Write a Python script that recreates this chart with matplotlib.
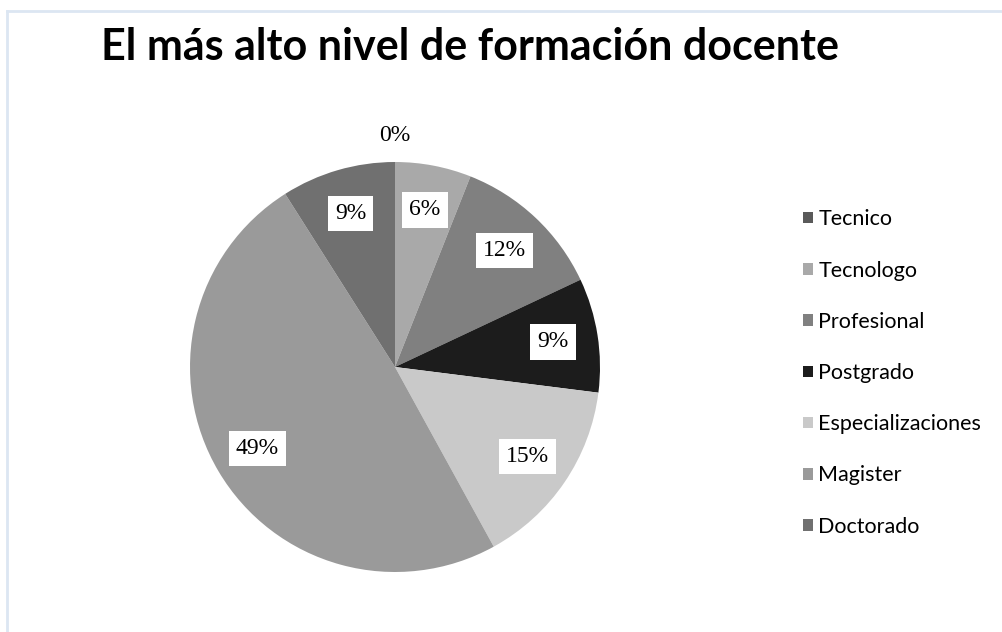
import matplotlib.pyplot as plt
import numpy as np

categories = ['Tecnico', 'Tecnologo', 'Profesional', 'Postgrado',
              'Especializaciones', 'Magister', 'Doctorado']
percents = [0, 6, 12, 9, 15, 49, 9]
colors = ['#5a5a5a', '#a9a9a9', '#808080', '#1c1c1c', '#c9c9c9', '#9a9a9a', '#707070']

W, H = 1002, 632
fig = plt.figure(figsize=(W / 100, H / 100), dpi=100)

# light frame around the chart area
fig.add_artist(plt.Line2D([6.5 / W, 1], [1 - 11 / H, 1 - 11 / H], color='#dce6f2', lw=2))
fig.add_artist(plt.Line2D([6.5 / W, 6.5 / W], [0, 1 - 11 / H], color='#dce6f2', lw=2))

fig.text(470 / W, 1 - 47 / H, 'El más alto nivel de formación docente',
         ha='center', va='center', fontsize=31, fontweight='bold', family='Lato')

# pie: centre (395, 367), radius 205 px
R = 205
ax = fig.add_axes([(395 - R) / W, 1 - (367 + R) / H, 2 * R / W, 2 * R / H])
wedges, _ = ax.pie(percents, colors=colors, startangle=90, counterclock=False,
                   radius=1, wedgeprops=dict(linewidth=0))
ax.set_xlim(-1, 1)
ax.set_ylim(-1, 1)
ax.set_aspect('auto')
ax.axis('off')

for w, p in zip(wedges, percents):
    mid = np.deg2rad((w.theta1 + w.theta2) / 2)
    d = 1.13 if p == 0 else 0.78
    bbox = None if p == 0 else dict(boxstyle='square,pad=0.3', fc='white', ec='none')
    ax.text(d * np.cos(mid), d * np.sin(mid), f'{p}%', ha='center', va='center',
            fontsize=17, family='Liberation Serif', bbox=bbox, clip_on=False)

leg = fig.legend(wedges, categories, loc='upper left', bbox_to_anchor=(784 / W, 1 - 190 / H),
                 frameon=False, handlelength=0.45, handleheight=0.45,
                 handletextpad=0.25, labelspacing=1.45, prop=dict(family='Lato', size=15.5))

fig.savefig('out.png', dpi=100)
